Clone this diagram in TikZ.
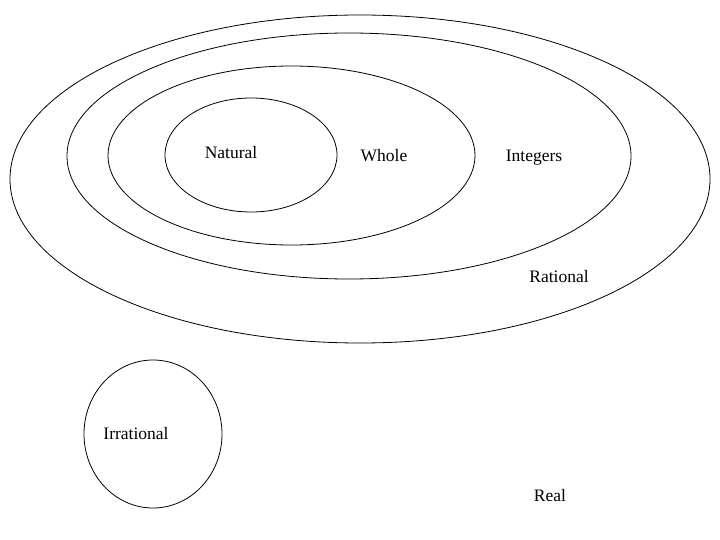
\documentclass[tikz,border=0pt]{standalone}
\usepackage{fontspec}
\setmainfont{Liberation Serif}
\begin{document}
\begin{tikzpicture}[x=1pt,y=-1pt,set/.style={draw=black,line width=0.8pt},lab/.style={font=\fontsize{17.5}{20}\selectfont,inner sep=0pt}]
\useasboundingbox (0,0) rectangle (720,540);
\draw[set] (360,179) ellipse [x radius=350,y radius=164];
\draw[set] (349,156) ellipse [x radius=282,y radius=123];
\draw[set] (291.5,155.5) ellipse [x radius=183.5,y radius=89.5];
\draw[set] (251,155) ellipse [x radius=86,y radius=57];
\draw[set] (153,434) ellipse [x radius=69,y radius=74];
\node[lab] (nat) at (231,153) {Natural};
\node[lab] (who) at (384,156) {Whole};
\node[lab] (int) at (534,158) {Integers};
\node[lab] (rat) at (559,277) {Rational};
\node[lab] (irr) at (136,434) {Irrational};
\node[lab] (real) at (550,496) {Real};
\end{tikzpicture}
\end{document}
